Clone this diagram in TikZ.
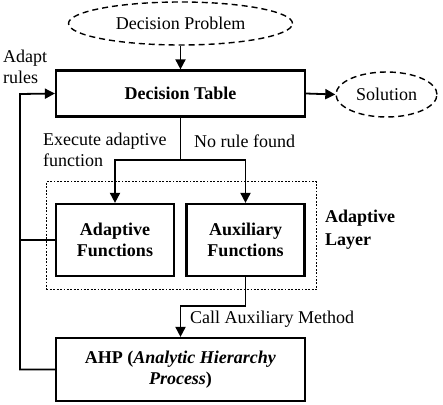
\documentclass[tikz,border=0pt]{standalone}
\usepackage{fontspec}
\setmainfont{Liberation Serif}
\usetikzlibrary{arrows.meta,shapes.geometric}
\begin{document}
\begin{tikzpicture}[x=1pt,y=-1pt,
  font=\fontsize{18}{21}\selectfont,
  box/.style={draw,line width=2.2pt,inner sep=0pt,align=center,font=\fontsize{18}{21}\selectfont\bfseries},
  oval/.style={draw,ellipse,dashed,dash pattern=on 6pt off 4pt,line width=1.4pt,inner sep=0pt},
  lbl/.style={inner sep=0pt,anchor=west,align=left},
  conn/.style={line width=1.8pt},
  arr/.style={conn,-{Triangle[length=10pt,width=10pt]}}]
\useasboundingbox (0,0) rectangle (443,404);
\node[oval,minimum width=224pt,minimum height=43pt] (dp) at (180.5,23.5) {Decision Problem};
\node[box,minimum width=249pt,minimum height=46pt] (dt) at (180.5,93.5) {Decision Table};
\node[oval,minimum width=101pt,minimum height=45pt] (sol) at (386.5,94.5) {Solution};
\node[draw,dash pattern=on 1.8pt off 1.6pt,line width=1.8pt,minimum width=270pt,minimum height=108pt,inner sep=0pt] (layer) at (181.5,235.5) {};
\node[box,minimum width=118pt,minimum height=72pt] (af) at (115,240) {Adaptive\\Functions};
\node[box,minimum width=118pt,minimum height=72pt] (xf) at (245.5,240) {Auxiliary\\Functions};
\node[box,minimum width=249pt,minimum height=63pt] (ahp) at (180.5,369.5) {AHP (\textit{Analytic Hierarchy}\\\textit{Process})};
\node[lbl] (adapt) at (3,67) {Adapt\\rules};
\node[lbl] (exec) at (43,150) {Execute adaptive\\function};
\node[lbl] (norule) at (194,141) {No rule found};
\node[lbl,font=\fontsize{18}{23}\selectfont\bfseries] (al) at (325,229.5) {Adaptive\\Layer};
\node[lbl] (call) at (190,319) {Call Auxiliary Method};
\coordinate (split) at (180.5,160);
\coordinate (bend) at (245.5,306);
\coordinate (lt) at (20,94);
\coordinate (lb) at (20,369.5);
\draw[arr] (dp.south) -- (dt.north);
\draw[arr] (dt.east) -- (sol.west);
\draw[conn] (dt.south) -- (split);
\draw[arr] (split) -| (af.north);
\draw[arr] (split) -| (xf.north);
\draw[conn] (xf.south) -- (bend);
\draw[arr] (bend) -| (ahp.north);
\draw[arr] (ahp.west) -- (lb) -- (lt) -- (dt.west);
\draw[conn] (af.west) -- (20,240);
\end{tikzpicture}
\end{document}
